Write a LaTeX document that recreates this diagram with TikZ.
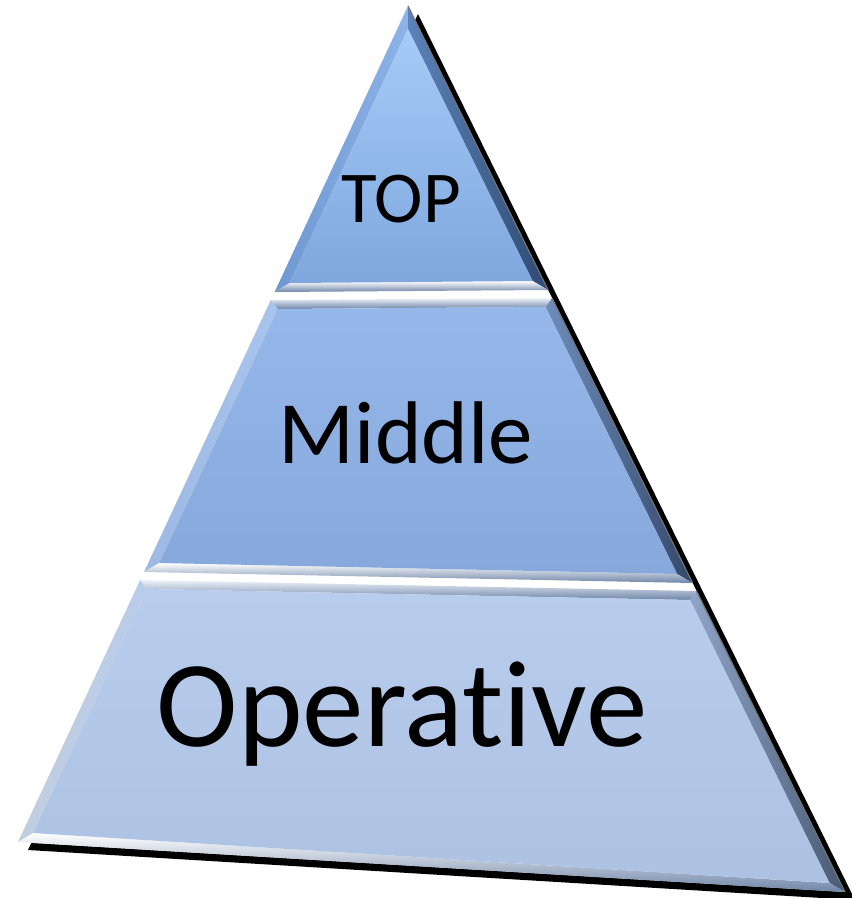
\documentclass[tikz,border=0pt]{standalone}
\usepackage{fontspec}
\setmainfont{Carlito}[Ligatures={NoCommon}]
\definecolor{tApex}{HTML}{A6CBF8}
\definecolor{tBase}{HTML}{7FA7DE}
\definecolor{tLo}{HTML}{6E98D2}
\definecolor{tLi}{HTML}{8DB3E8}
\definecolor{tRi}{HTML}{5C82BA}
\definecolor{tRo}{HTML}{2F4A72}
\definecolor{mTop}{HTML}{96B7E9}
\definecolor{mBot}{HTML}{86A8DB}
\definecolor{mLo}{HTML}{9DB9E4}
\definecolor{mLi}{HTML}{A9C4EC}
\definecolor{mRi}{HTML}{6E8DBB}
\definecolor{mRo}{HTML}{34476A}
\definecolor{bTop}{HTML}{B8CCED}
\definecolor{bBot}{HTML}{ADC1E3}
\definecolor{bLo}{HTML}{C2CEDF}
\definecolor{bLi}{HTML}{B9CCEA}
\definecolor{bRi}{HTML}{8FA5C8}
\definecolor{bRo}{HTML}{4A5A74}
\definecolor{stripLight}{HTML}{EEF3FA}
\definecolor{stripDark}{HTML}{6F85A8}
\begin{document}
\begin{tikzpicture}[x=1pt,y=-1pt]
\useasboundingbox (0,0) rectangle (852,898);
\tikzset{
  shadowfill/.style={fill=black},
  gapfill/.style={fill=white},
  lbl/.style={anchor=base, text=black, inner sep=0pt},
  edgeline/.style={draw=black!55, line width=1.2pt},
}
% outer corners
\coordinate (A) at (408,6);
\coordinate (T1L) at (274.6,292); \coordinate (T1R) at (548.1,290);
\coordinate (M0L) at (270.8,300); \coordinate (M0R) at (552,298);
\coordinate (M1L) at (144,572);   \coordinate (M1R) at (692.6,583);
\coordinate (B0L) at (140.2,580); \coordinate (B0R) at (696.5,591);
\coordinate (BL) at (18,842);     \coordinate (BR) at (845,892);
% inner corners
\coordinate (a) at (408,29);
\coordinate (t1l) at (289.8,283); \coordinate (t1r) at (532.6,281);
\coordinate (m0l) at (277.7,309); \coordinate (m0r) at (545.5,307);
\coordinate (m1l) at (159.2,563); \coordinate (m1r) at (677.1,574);
\coordinate (b0l) at (147,589);   \coordinate (b0r) at (690,600);
\coordinate (bl) at (33.2,833);   \coordinate (br) at (829.5,883);

% shadow
\fill[shadowfill] ([shift={(10,8)}]A) -- ([shift={(10,8)}]BR) -- ([shift={(10,8)}]BL) -- cycle;
% white gaps inside the outline
\fill[gapfill] (A) -- (BR) -- (BL) -- cycle;

% ---------- top triangle ----------
\shade[left color=tLo, right color=tLi] (A) -- (a) -- (t1l) -- (T1L) -- cycle;
\shade[left color=tRi, right color=tRo] (A) -- (T1R) -- (t1r) -- (a) -- cycle;
\shade[top color=white, bottom color=stripDark] (t1l) -- (t1r) -- (T1R) -- (T1L) -- cycle;
\shade[top color=tApex, bottom color=tBase] (a) -- (t1r) -- (t1l) -- cycle;

% ---------- middle band ----------
\shade[left color=mLo, right color=mLi] (M0L) -- (m0l) -- (m1l) -- (M1L) -- cycle;
\shade[left color=mRi, right color=mRo] (M0R) -- (M1R) -- (m1r) -- (m0r) -- cycle;
\shade[top color=stripLight, bottom color=stripDark] (M0L) -- (M0R) -- (m0r) -- (m0l) -- cycle;
\shade[top color=white, bottom color=stripDark] (m1l) -- (m1r) -- (M1R) -- (M1L) -- cycle;
\shade[top color=mTop, bottom color=mBot] (m0l) -- (m0r) -- (m1r) -- (m1l) -- cycle;

% ---------- bottom band ----------
\shade[left color=bLo, right color=bLi] (B0L) -- (b0l) -- (bl) -- (BL) -- cycle;
\shade[left color=bRi, right color=bRo] (B0R) -- (BR) -- (br) -- (b0r) -- cycle;
\shade[top color=stripLight, bottom color=stripDark] (B0L) -- (B0R) -- (b0r) -- (b0l) -- cycle;
\shade[top color=white, bottom color=stripDark] (bl) -- (br) -- (BR) -- (BL) -- cycle;
\shade[top color=bTop, bottom color=bBot] (b0l) -- (b0r) -- (br) -- (bl) -- cycle;

% outer right edge line
\draw[edgeline] (A) -- (T1R);
\draw[edgeline] (M0R) -- (M1R);
\draw[edgeline] (B0R) -- (BR);

% labels
\node[lbl] (top) at (401,222) {\fontsize{73}{80}\selectfont TOP};
\node[lbl] (mid) at (406,463) {\fontsize{89}{96}\selectfont Middle};
\node[lbl] (ope) at (402,746) {\fontsize{123}{130}\selectfont Operative};
\end{tikzpicture}
\end{document}
